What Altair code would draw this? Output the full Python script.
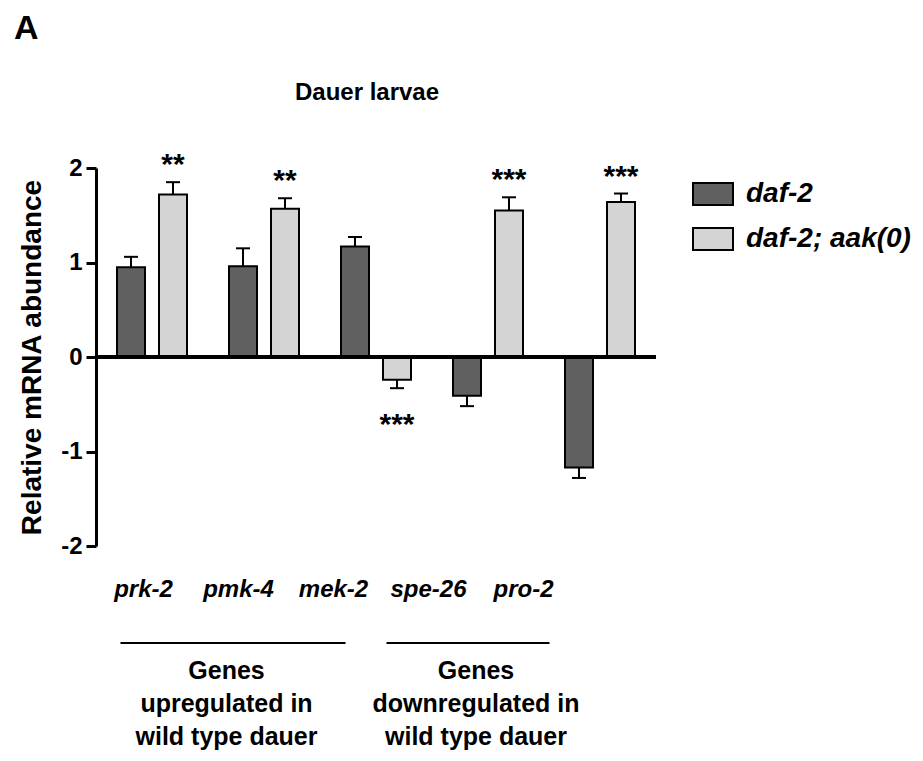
import altair as alt
import pandas as pd

# ---- data ----
genes = ["prk-2", "pmk-4", "mek-2", "spe-26", "pro-2"]
strains = ["daf-2", "daf-2; aak(0)"]
daf2_mean = [0.95, 0.96, 1.17, -0.41, -1.17]
daf2_sem = [0.11, 0.19, 0.10, 0.11, 0.11]
aak_mean = [1.72, 1.57, -0.24, 1.55, 1.64]
aak_sem = [0.13, 0.11, 0.09, 0.14, 0.09]
aak_stars = ["**", "**", "***", "***", "***"]
y_ticks = [-2, -1, 0, 1, 2]

group_labels = ["Genes\nupregulated in\nwild type dauer",
                "Genes\ndownregulated in\nwild type dauer"]
group_first = [0, 3]
group_last = [2, 4]

title_text = "Dauer larvae"
panel_letter = "A"

colors = ["#606060", "#d4d4d4"]
FONT = "Liberation Sans"

rows = []
for i, g in enumerate(genes):
    rows.append(dict(gene=g, strain=strains[0], mean=daf2_mean[i], sem=daf2_sem[i], star=""))
    rows.append(dict(gene=g, strain=strains[1], mean=aak_mean[i], sem=aak_sem[i], star=aak_stars[i]))
df = pd.DataFrame(rows)
df["err"] = df.apply(lambda r: r["mean"] + (r["sem"] if r["mean"] >= 0 else -r["sem"]), axis=1)

xscale = alt.Scale(domain=genes, paddingInner=0, paddingOuter=0)
X = alt.X("gene:N", scale=xscale, axis=None)
XO = alt.XOffset("strain:N", sort=strains, scale=alt.Scale(domain=strains, paddingInner=1/3, paddingOuter=0.5))
yscale = alt.Scale(domain=[-2, 2], nice=False, zero=False)

base = alt.Chart(df)

legend = alt.Legend(
    title=None, orient="none", legendX=596, legendY=5,
    symbolType="M-1,-0.55L1,-0.55L1,0.55L-1,0.55Z", symbolSize=1600,
    symbolStrokeColor="black", symbolStrokeWidth=2, symbolOpacity=1,
    labelFont=FONT, labelFontSize=28, labelFontStyle="italic", labelFontWeight="bold",
    labelColor="black", labelOffset=12, rowPadding=9, labelLimit=400,
)

bars = base.mark_bar(stroke="black", strokeWidth=2).encode(
    x=X, xOffset=XO,
    y=alt.Y("mean:Q", scale=yscale,
            axis=alt.Axis(values=y_ticks, labelExpr="'' + datum.value", grid=False,
                          domainColor="black", domainWidth=3, tickColor="black",
                          tickWidth=3, tickSize=10, labelFont=FONT, labelFontSize=24,
                          labelFontWeight="bold", labelColor="black", labelPadding=4,
                          title="Relative mRNA abundance", titleFont=FONT,
                          titleFontSize=28, titleFontWeight="bold", titleColor="black",
                          titlePadding=14)),
    y2=alt.datum(0),
    fill=alt.Fill("strain:N", scale=alt.Scale(domain=strains, range=colors), legend=legend),
)

errs = base.mark_rule(color="black", strokeWidth=2).encode(
    x=X, xOffset=XO, y=alt.Y("mean:Q", scale=yscale), y2="err:Q")
caps = base.mark_tick(color="black", thickness=2, size=14, opacity=1).encode(
    x=X, xOffset=XO, y=alt.Y("err:Q", scale=yscale))

stars_up = base.transform_filter("datum.star != '' && datum.mean >= 0").mark_text(
    font=FONT, fontSize=30, fontWeight="bold", color="black", baseline="alphabetic", dy=-8
).encode(x=X, xOffset=XO, y=alt.Y("err:Q", scale=yscale), text="star:N")
stars_dn = base.transform_filter("datum.star != '' && datum.mean < 0").mark_text(
    font=FONT, fontSize=30, fontWeight="bold", color="black", baseline="alphabetic", dy=46
).encode(x=X, xOffset=XO, y=alt.Y("err:Q", scale=yscale), text="star:N")

zero = base.mark_rule(color="black", strokeWidth=3).encode(y=alt.datum(0))

main = alt.layer(bars, errs, caps, zero, stars_up, stars_dn)

# gene labels and group annotations (own x scale)
lab_scale = alt.Scale(domain=[-0.5, 4.5], range=[0, 475])
gdf = pd.DataFrame({"gene": genes, "idx": list(range(len(genes)))})
gene_labels = alt.Chart(gdf).mark_text(
    font=FONT, fontSize=24, fontWeight="bold", fontStyle="italic", color="black",
    baseline="alphabetic").encode(
    x=alt.X("idx:Q", scale=lab_scale, axis=None), y=alt.value(429), text="gene:N")

group_styles = [dict(l=-23, r=12, dx=-12), dict(l=-42, r=26, dx=0)]
ann = []
for k in range(len(group_labels)):
    gd = pd.DataFrame({"label": [group_labels[k]], "first": [group_first[k]],
                       "last": [group_last[k]],
                       "mid": [(group_first[k] + group_last[k]) / 2]})
    st = group_styles[k]
    ann.append(alt.Chart(gd).mark_rule(color="black", strokeWidth=2,
                                        xOffset=st["l"], x2Offset=st["r"]).encode(
        x=alt.X("first:Q", scale=lab_scale, axis=None), x2="last:Q", y=alt.value(475)))
    ann.append(alt.Chart(gd).mark_text(font=FONT, fontSize=25, fontWeight="bold",
                                        color="black", lineBreak="\n", lineHeight=33,
                                        baseline="alphabetic", dx=st["dx"]).encode(
        x=alt.X("mid:Q", scale=lab_scale, axis=None), y=alt.value(511), text="label:N"))

panel = alt.Chart(pd.DataFrame({"t": [panel_letter]})).mark_text(
    font=FONT, fontSize=34, fontWeight="bold", color="black", align="left",
    baseline="alphabetic").encode(x=alt.value(-82), y=alt.value(-129), text="t:N")

title = alt.Chart(pd.DataFrame({"t": [title_text]})).mark_text(
    font=FONT, fontSize=24, fontWeight="bold", color="black", align="center",
    baseline="alphabetic").encode(x=alt.value(271), y=alt.value(-68), text="t:N")

chart = alt.layer(main, gene_labels, *ann, panel, title).resolve_scale(x="independent").properties(
    width=560, height=378,
    autosize=alt.AutoSizeParams(type="none"),
    padding={"left": 88, "top": 160, "right": 255, "bottom": 207},
).configure_view(stroke=None)

chart.save("out.html", embed_options={"renderer": "svg", "actions": False})
